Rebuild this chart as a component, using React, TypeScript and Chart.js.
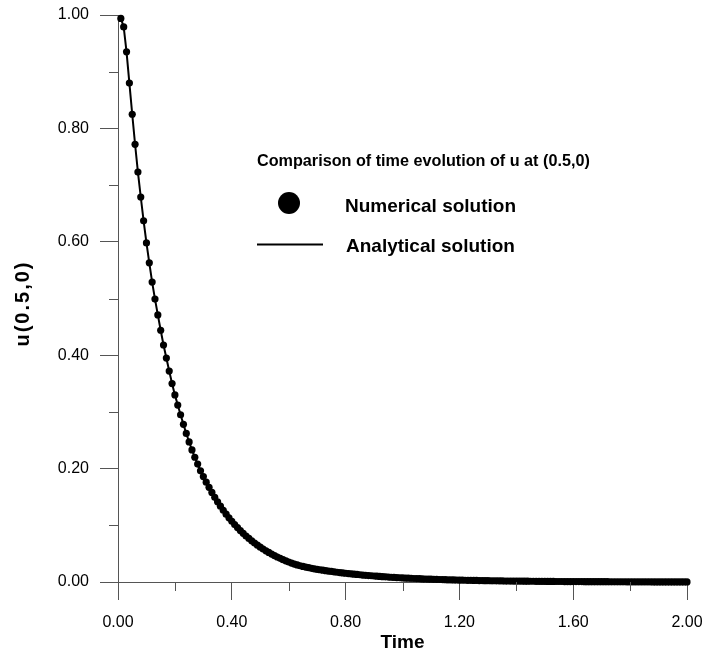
import React, { useEffect, useRef } from "react";
import { Chart, registerables } from "chart.js";

Chart.register(...registerables);

// Time samples (x)
const TIME: number[] = [
  0.01, 0.02, 0.03, 0.04, 0.05, 0.06, 0.07, 0.08, 0.09, 0.1,
  0.11, 0.12, 0.13, 0.14, 0.15, 0.16, 0.17, 0.18, 0.19, 0.2,
  0.21, 0.22, 0.23, 0.24, 0.25, 0.26, 0.27, 0.28, 0.29, 0.3,
  0.31, 0.32, 0.33, 0.34, 0.35, 0.36, 0.37, 0.38, 0.39, 0.4,
  0.41, 0.42, 0.43, 0.44, 0.45, 0.46, 0.47, 0.48, 0.49, 0.5,
  0.51, 0.52, 0.53, 0.54, 0.55, 0.56, 0.57, 0.58, 0.59, 0.6,
  0.61, 0.62, 0.63, 0.64, 0.65, 0.66, 0.67, 0.68, 0.69, 0.7,
  0.71, 0.72, 0.73, 0.74, 0.75, 0.76, 0.77, 0.78, 0.79, 0.8,
  0.81, 0.82, 0.83, 0.84, 0.85, 0.86, 0.87, 0.88, 0.89, 0.9,
  0.91, 0.92, 0.93, 0.94, 0.95, 0.96, 0.97, 0.98, 0.99, 1.0,
  1.01, 1.02, 1.03, 1.04, 1.05, 1.06, 1.07, 1.08, 1.09, 1.1,
  1.11, 1.12, 1.13, 1.14, 1.15, 1.16, 1.17, 1.18, 1.19, 1.2,
  1.21, 1.22, 1.23, 1.24, 1.25, 1.26, 1.27, 1.28, 1.29, 1.3,
  1.31, 1.32, 1.33, 1.34, 1.35, 1.36, 1.37, 1.38, 1.39, 1.4,
  1.41, 1.42, 1.43, 1.44, 1.45, 1.46, 1.47, 1.48, 1.49, 1.5,
  1.51, 1.52, 1.53, 1.54, 1.55, 1.56, 1.57, 1.58, 1.59, 1.6,
  1.61, 1.62, 1.63, 1.64, 1.65, 1.66, 1.67, 1.68, 1.69, 1.7,
  1.71, 1.72, 1.73, 1.74, 1.75, 1.76, 1.77, 1.78, 1.79, 1.8,
  1.81, 1.82, 1.83, 1.84, 1.85, 1.86, 1.87, 1.88, 1.89, 1.9,
  1.91, 1.92, 1.93, 1.94, 1.95, 1.96, 1.97, 1.98, 1.99, 2.0,
];

// u(0.5,0) (numerical solution dots)
const U_NUMERICAL: number[] = [
  0.994, 0.979, 0.935, 0.88, 0.825, 0.772, 0.723, 0.679, 0.637, 0.598,
  0.563, 0.529, 0.499, 0.471, 0.444, 0.418, 0.395, 0.372, 0.35, 0.33,
  0.312, 0.295, 0.278, 0.262, 0.247, 0.233, 0.22, 0.208, 0.196, 0.186,
  0.176, 0.167, 0.158, 0.1494, 0.1414, 0.1337, 0.1265, 0.1197, 0.1132, 0.1071,
  0.1013, 0.0959, 0.0907, 0.0858, 0.0811, 0.0768, 0.0726, 0.0687, 0.065, 0.0615,
  0.0582, 0.055, 0.0521, 0.0492, 0.0466, 0.0441, 0.0417, 0.0394, 0.0373, 0.0353,
  0.0334, 0.0317, 0.0301, 0.0287, 0.0274, 0.0263, 0.0252, 0.0242, 0.0233, 0.0224,
  0.0216, 0.0208, 0.02, 0.0193, 0.0186, 0.0179, 0.0172, 0.0166, 0.016, 0.0154,
  0.0148, 0.0143, 0.0138, 0.0133, 0.0128, 0.0123, 0.0118, 0.0114, 0.011, 0.0106,
  0.0102, 0.0098, 0.0094, 0.0091, 0.0087, 0.0084, 0.0081, 0.0078, 0.0075, 0.0072,
  0.0069, 0.0067, 0.0064, 0.0062, 0.006, 0.0058, 0.0055, 0.0053, 0.0051, 0.0049,
  0.0048, 0.0046, 0.0044, 0.0042, 0.0041, 0.0039, 0.0038, 0.0037, 0.0035, 0.0034,
  0.0033, 0.0031, 0.003, 0.0029, 0.0028, 0.0027, 0.0026, 0.0025, 0.0024, 0.0023,
  0.0022, 0.0022, 0.0021, 0.002, 0.0019, 0.0018, 0.0018, 0.0017, 0.0016, 0.0016,
  0.0015, 0.0015, 0.0014, 0.0014, 0.0013, 0.0013, 0.0012, 0.0012, 0.0011, 0.0011,
  0.001, 0.001, 0.001, 0.0009, 0.0009, 0.0009, 0.0008, 0.0008, 0.0008, 0.0007,
  0.0007, 0.0007, 0.0007, 0.0006, 0.0006, 0.0006, 0.0006, 0.0005, 0.0005, 0.0005,
  0.0005, 0.0005, 0.0004, 0.0004, 0.0004, 0.0004, 0.0004, 0.0004, 0.0003, 0.0003,
  0.0003, 0.0003, 0.0003, 0.0003, 0.0003, 0.0003, 0.0003, 0.0002, 0.0002, 0.0002,
  0.0002, 0.0002, 0.0002, 0.0002, 0.0002, 0.0002, 0.0002, 0.0002, 0.0002, 0.0002,
];

// Analytical solution coincides with the numerical one in the picture
const U_ANALYTICAL: number[] = U_NUMERICAL;

const SERIES_NAMES = ["Numerical solution", "Analytical solution"];
const LEGEND_TITLE = "Comparison of time evolution of u at (0.5,0)";
const X_TITLE = "Time";
const Y_TITLE = "u(0.5,0)";

const X_MIN = 0;
const X_MAX = 2;
const X_STEP = 0.4;
const X_MINOR = [0.2, 0.6, 1.0, 1.4, 1.8];
const Y_MIN = 0;
const Y_MAX = 1;
const Y_STEP = 0.2;
const Y_MINOR = [0.1, 0.3, 0.5, 0.7, 0.9];

const FONT = "'Liberation Sans', Arial, Helvetica, sans-serif";
const AXIS_COLOR = "#555555";
const INK = "#000000";

const minorTicksPlugin = {
  id: "minorTicks",
  afterDraw(chart: any) {
    const { ctx, chartArea, scales } = chart;
    ctx.save();
    ctx.strokeStyle = AXIS_COLOR;
    ctx.lineWidth = 1;
    ctx.beginPath();
    for (const v of X_MINOR) {
      const px = Math.round(scales.x.getPixelForValue(v)) + 0.5;
      ctx.moveTo(px, chartArea.bottom);
      ctx.lineTo(px, chartArea.bottom + 9);
    }
    for (const v of Y_MINOR) {
      const py = Math.round(scales.y.getPixelForValue(v)) + 0.5;
      ctx.moveTo(chartArea.left - 9, py);
      ctx.lineTo(chartArea.left, py);
    }
    ctx.stroke();
    ctx.restore();
  },
};

const yTitlePlugin = {
  id: "yTitle",
  afterDraw(chart: any) {
    const { ctx, chartArea } = chart;
    ctx.save();
    ctx.translate(23, (chartArea.top + chartArea.bottom) / 2 + 5);
    ctx.rotate(-Math.PI / 2);
    ctx.fillStyle = INK;
    ctx.font = `bold 20px ${FONT}`;
    try {
      (ctx as any).letterSpacing = "2px";
    } catch (e) {}
    ctx.textAlign = "center";
    ctx.textBaseline = "middle";
    ctx.fillText(Y_TITLE, 0, 0);
    ctx.restore();
  },
};

const legendPlugin = {
  id: "customLegend",
  afterDraw(chart: any) {
    const { ctx, chartArea } = chart;
    const ds = chart.data.datasets;
    const L = chartArea.left;
    const T = chartArea.top;
    ctx.save();
    ctx.fillStyle = INK;
    ctx.textAlign = "left";
    ctx.textBaseline = "alphabetic";
    ctx.font = `bold 16.2px ${FONT}`;
    ctx.fillText(LEGEND_TITLE, L + 139, T + 151);
    // numerical: filled circle
    ctx.beginPath();
    ctx.arc(L + 171, T + 188, 11, 0, Math.PI * 2);
    ctx.fillStyle = ds[0].backgroundColor;
    ctx.fill();
    ctx.fillStyle = INK;
    ctx.font = `bold 19px ${FONT}`;
    ctx.fillText(ds[0].label, L + 227, T + 196.5);
    // analytical: line
    ctx.beginPath();
    ctx.strokeStyle = ds[1].borderColor;
    ctx.lineWidth = 2;
    ctx.moveTo(L + 139, T + 229.5);
    ctx.lineTo(L + 205, T + 229.5);
    ctx.stroke();
    ctx.fillText(ds[1].label, L + 228, T + 236.5);
    ctx.restore();
  },
};

export default function App() {
  const ref = useRef<HTMLCanvasElement | null>(null);

  useEffect(() => {
    if (!ref.current) return;
    Chart.defaults.font.family = FONT;
    const numerical = TIME.map((t, i) => ({ x: t, y: U_NUMERICAL[i] }));
    const analytical = TIME.map((t, i) => ({ x: t, y: U_ANALYTICAL[i] }));
    const chart = new Chart(ref.current, {
      type: "scatter",
      data: {
        datasets: [
          {
            label: SERIES_NAMES[0],
            data: numerical,
            showLine: false,
            pointRadius: 3.6,
            pointBorderWidth: 0,
            backgroundColor: INK,
            borderColor: INK,
            clip: false,
          },
          {
            label: SERIES_NAMES[1],
            data: analytical,
            showLine: true,
            pointRadius: 0,
            borderWidth: 2,
            borderColor: INK,
            backgroundColor: INK,
            clip: false,
          },
        ],
      },
      options: {
        animation: false,
        responsive: false,
        devicePixelRatio: 1,
        layout: { padding: { left: 0, top: 15, right: 20, bottom: 0 } },
        plugins: {
          legend: { display: false },
          tooltip: { enabled: false },
          title: { display: false },
        },
        scales: {
          x: {
            type: "linear",
            min: X_MIN,
            max: X_MAX,
            afterFit: (s: any) => {
              s.height = 74;
              s.paddingLeft = 0;
              s.paddingRight = 0;
            },
            ticks: {
              stepSize: X_STEP,
              padding: 13,
              color: INK,
              font: { size: 16 },
              maxRotation: 0,
              callback: (v: any) => Number(v).toFixed(2),
            },
            grid: {
              drawOnChartArea: false,
              drawTicks: true,
              tickLength: 18,
              color: AXIS_COLOR,
              lineWidth: 1,
            },
            border: { display: true, color: AXIS_COLOR, width: 1 },
            title: {
              display: true,
              text: X_TITLE,
              color: INK,
              font: { size: 19, weight: "bold" },
              padding: { top: 0, bottom: 2 },
            },
          },
          y: {
            type: "linear",
            min: Y_MIN,
            max: Y_MAX,
            afterFit: (s: any) => {
              s.width = 118;
              s.paddingTop = 0;
              s.paddingBottom = 0;
            },
            ticks: {
              stepSize: Y_STEP,
              padding: 11,
              color: INK,
              font: { size: 16 },
              callback: (v: any) => Number(v).toFixed(2),
            },
            grid: {
              drawOnChartArea: false,
              drawTicks: true,
              tickLength: 18,
              color: AXIS_COLOR,
              lineWidth: 1,
            },
            border: { display: true, color: AXIS_COLOR, width: 1 },
            title: { display: false },
          },
        },
      },
      plugins: [minorTicksPlugin, yTitlePlugin, legendPlugin],
    });
    return () => chart.destroy();
  }, []);

  return (
    <div style={{ position: "absolute", left: 0, top: 0, width: 707, height: 656, background: "#fff" }}>
      <canvas ref={ref} width={707} height={656} style={{ width: 707, height: 656, display: "block" }} />
    </div>
  );
}
